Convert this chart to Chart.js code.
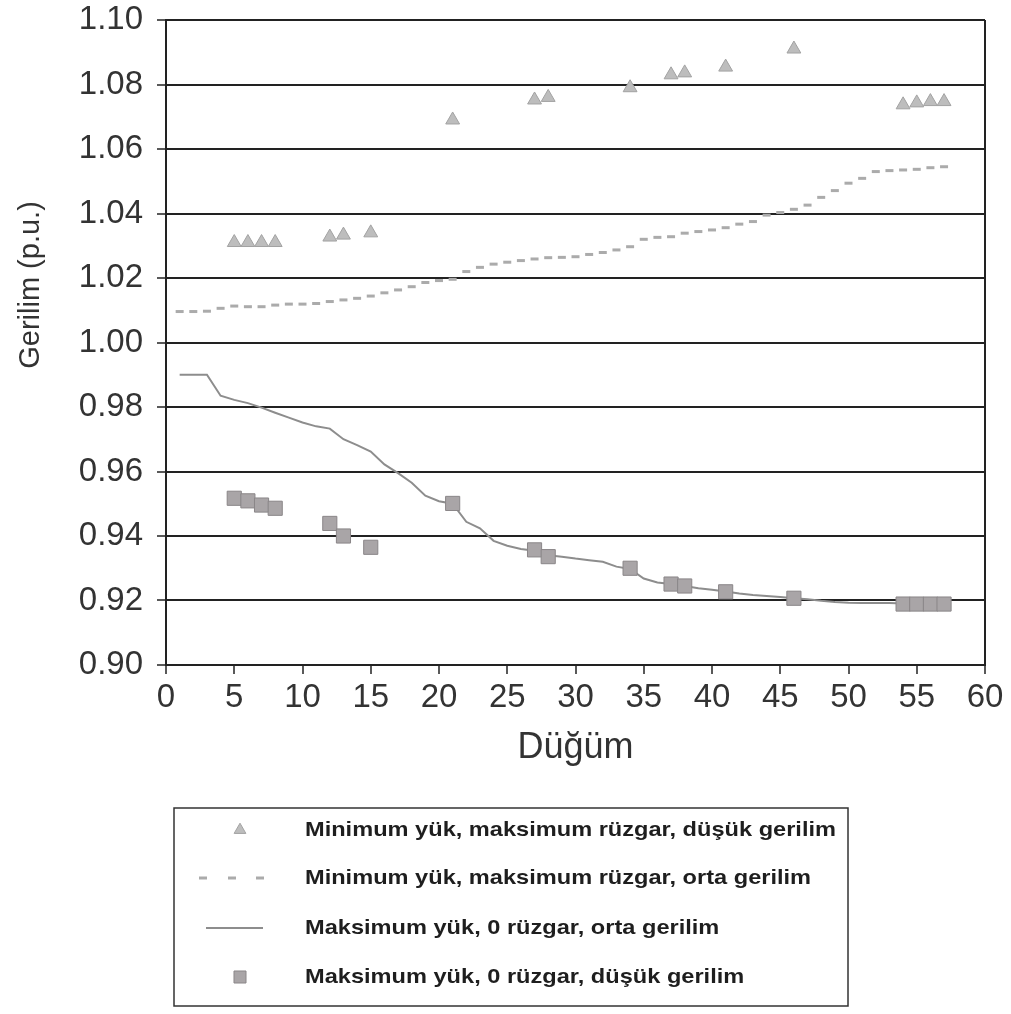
<!DOCTYPE html>
<html>
<head>
<meta charset="utf-8">
<script src="https://cdn.jsdelivr.net/npm/chart.js@4.4.1/dist/chart.umd.min.js"></script>
<style>
  html, body { margin: 0; padding: 0; background: #fff; }
  #wrap { width: 1011px; height: 1014px; }
</style>
</head>
<body>
<div id="wrap"><canvas id="voltChart" width="1011" height="1014"></canvas></div>
<script>
// ==== Data ====
const nodes = [1, 2, 3, 4, 5, 6, 7, 8, 9, 10, 11, 12, 13, 14, 15, 16, 17, 18, 19, 20,
  21, 22, 23, 24, 25, 26, 27, 28, 29, 30, 31, 32, 33, 34, 35, 36, 37, 38, 39, 40,
  41, 42, 43, 44, 45, 46, 47, 48, 49, 50, 51, 52, 53, 54, 55, 56, 57];

// min load, max wind, medium voltage (dashed)
const minLoadMV = [1.0096, 1.0096, 1.0097, 1.0106, 1.0113, 1.0111, 1.0111, 1.0116, 1.0119, 1.0119,
  1.0121, 1.0127, 1.0132, 1.0137, 1.0144, 1.0154, 1.0163, 1.0173, 1.0186, 1.0192,
  1.0196, 1.0220, 1.0233, 1.0243, 1.0249, 1.0254, 1.0259, 1.0263, 1.0264, 1.0266,
  1.0273, 1.0279, 1.0287, 1.0297, 1.0320, 1.0326, 1.0328, 1.0339, 1.0344, 1.0349,
  1.0356, 1.0367, 1.0375, 1.0395, 1.0403, 1.0413, 1.0426, 1.0450, 1.0471, 1.0494,
  1.0509, 1.0530, 1.0533, 1.0535, 1.0537, 1.0542, 1.0545];

// max load, no wind, medium voltage (solid)
const maxLoadMV = [0.9900, 0.9900, 0.9900, 0.9835, 0.9822, 0.9812, 0.9798, 0.9782, 0.9767, 0.9752,
  0.9740, 0.9733, 0.9700, 0.9682, 0.9662, 0.9622, 0.9595, 0.9565, 0.9525, 0.9508,
  0.9500, 0.9444, 0.9424, 0.9385, 0.9370, 0.9360, 0.9354, 0.9340, 0.9336, 0.9330,
  0.9325, 0.9320, 0.9305, 0.9298, 0.9268, 0.9256, 0.9251, 0.9245, 0.9238, 0.9233,
  0.9228, 0.9222, 0.9217, 0.9214, 0.9211, 0.9207, 0.9204, 0.9199, 0.9195, 0.9193,
  0.9192, 0.9192, 0.9192, 0.9191, 0.9191, 0.9191, 0.9191];

// low voltage buses
const lvNodes = [5, 6, 7, 8, 12, 13, 15, 21, 27, 28, 34, 37, 38, 41, 46, 54, 55, 56, 57];
const minLoadLV = [1.0310, 1.0310, 1.0310, 1.0310, 1.0327, 1.0333, 1.0340, 1.0690, 1.0752, 1.0760,
  1.0790, 1.0830, 1.0836, 1.0854, 1.0910, 1.0737, 1.0743, 1.0747, 1.0747];
const maxLoadLV = [0.9517, 0.9509, 0.9496, 0.9486, 0.9439, 0.9400, 0.9365, 0.9501, 0.9357, 0.9336,
  0.9300, 0.9251, 0.9245, 0.9227, 0.9207, 0.9189, 0.9189, 0.9189, 0.9189];

const seriesLabels = [
  "Minimum yük, maksimum rüzgar, düşük gerilim",
  "Minimum yük, maksimum rüzgar, orta gerilim",
  "Maksimum yük, 0 rüzgar, orta gerilim",
  "Maksimum yük, 0 rüzgar, düşük gerilim"
];

const xTicks = [0, 5, 10, 15, 20, 25, 30, 35, 40, 45, 50, 55, 60];
const yTicks = [0.90, 0.92, 0.94, 0.96, 0.98, 1.00, 1.02, 1.04, 1.06, 1.08, 1.10];

const toPoints = (xs, ys) => xs.map((x, i) => ({ x: x, y: ys[i] }));

const INK = "#222";
const FONT = "'Liberation Sans', Arial, sans-serif";

// ==== Y title (sits above the axis middle) ====
const yTitle = {
  id: "yTitle",
  afterDraw(chart) {
    const c = chart.ctx;
    c.save();
    c.translate(31, 285);
    c.rotate(-Math.PI / 2);
    c.font = "29px " + FONT;
    c.fillStyle = "#333";
    c.textAlign = "center";
    c.textBaseline = "middle";
    c.fillText("Gerilim (p.u.)", 0, 0);
    c.restore();
  }
};

// ==== Boxed legend under the plot ====
const legendBox = {
  id: "legendBox",
  afterDraw(chart) {
    const c = chart.ctx;
    const box = { left: 174, top: 808, right: 848, bottom: 1006 };
    const rows = [830, 878, 928, 977];
    const textX = 305;
    const symX = 240;
    const textFont = "bold 21px 'Liberation Sans Narrow', " + FONT;

    c.save();
    c.strokeStyle = "#333";
    c.lineWidth = 1.5;
    c.strokeRect(box.left, box.top, box.right - box.left, box.bottom - box.top);

    c.font = textFont;
    const sx = 531 / c.measureText(seriesLabels[0]).width;

    chart.data.datasets.forEach((ds, i) => {
      const y = rows[i];
      if (ds.legendKind === "point") {
        c.fillStyle = ds.pointBackgroundColor;
        c.strokeStyle = ds.pointBorderColor;
        c.lineWidth = ds.pointBorderWidth;
        Chart.helpers.drawPoint(c, {
          pointStyle: ds.pointStyle,
          radius: ds.pointRadius * 0.85,
          rotation: 0,
          borderWidth: ds.pointBorderWidth
        }, symX, y);
      } else if (ds.legendKind === "dash") {
        c.strokeStyle = ds.pointBorderColor;
        c.lineWidth = ds.pointBorderWidth;
        [203, 232, 260].forEach(px => {
          c.beginPath();
          c.moveTo(px - 4, y);
          c.lineTo(px + 4, y);
          c.stroke();
        });
      } else {
        c.strokeStyle = ds.borderColor;
        c.lineWidth = ds.borderWidth;
        c.beginPath();
        c.moveTo(206, y);
        c.lineTo(263, y);
        c.stroke();
      }

      c.save();
      c.translate(textX, y);
      c.scale(sx, 1);
      c.font = textFont;
      c.fillStyle = "#1e1e1e";
      c.textAlign = "left";
      c.textBaseline = "middle";
      c.fillText(ds.label, 0, 0);
      c.restore();
    });
    c.restore();
  }
};

// ==== Chart Setup ====
const ctx = document.getElementById("voltChart").getContext("2d");

const chart = new Chart(ctx, {
  type: "scatter",
  data: {
    datasets: [
      {
        label: seriesLabels[0],
        data: toPoints(lvNodes, minLoadLV),
        legendKind: "point",
        pointStyle: "triangle",
        pointRadius: 8,
        pointBackgroundColor: "#bdbdbd",
        pointBorderColor: "#a2a2a2",
        pointBorderWidth: 1,
        showLine: false,
        order: 0
      },
      {
        label: seriesLabels[1],
        data: toPoints(nodes, minLoadMV),
        legendKind: "dash",
        pointStyle: "line",
        pointRadius: 4,
        pointBorderColor: "#ababab",
        pointBorderWidth: 3,
        showLine: false,
        order: 1
      },
      {
        label: seriesLabels[2],
        data: toPoints(nodes, maxLoadMV),
        legendKind: "line",
        showLine: true,
        borderColor: "#8d8d8d",
        borderWidth: 2,
        pointRadius: 0,
        tension: 0,
        order: 3
      },
      {
        label: seriesLabels[3],
        data: toPoints(lvNodes, maxLoadLV),
        legendKind: "point",
        pointStyle: "rect",
        pointRadius: 10,
        pointBackgroundColor: "#a9a5a7",
        pointBorderColor: "#8a8688",
        pointBorderWidth: 1,
        showLine: false,
        order: 2
      }
    ]
  },
  options: {
    responsive: false,
    animation: false,
    layout: { padding: { top: 20, right: 26, bottom: 239, left: 0 } },
    plugins: {
      legend: { display: false },
      tooltip: { enabled: false }
    },
    scales: {
      x: {
        type: "linear",
        min: 0,
        max: 60,
        afterBuildTicks: s => { s.ticks = xTicks.map(v => ({ value: v })); },
        afterFit: s => {
          s.height = 110;
          s.paddingLeft = 0;
          s.paddingRight = 0;
        },
        ticks: {
          font: { family: FONT, size: 33 },
          color: "#333",
          padding: 4,
          maxRotation: 0
        },
        grid: {
          drawOnChartArea: true,
          color: c => (c.tick && c.tick.value === 60 ? INK : "rgba(0,0,0,0)"),
          lineWidth: 2,
          tickColor: INK,
          tickWidth: 1.5,
          tickLength: 9
        },
        border: { display: true, color: INK, width: 2 },
        title: {
          display: true,
          text: "Düğüm",
          font: { family: FONT, size: 36 },
          color: "#333",
          padding: { top: 0, bottom: 5 }
        }
      },
      y: {
        type: "linear",
        min: 0.90,
        max: 1.10,
        afterBuildTicks: s => { s.ticks = yTicks.map(v => ({ value: v })); },
        afterFit: s => {
          s.width = 166;
          s.paddingTop = 0;
          s.paddingBottom = 0;
        },
        ticks: {
          font: { family: FONT, size: 33 },
          color: "#333",
          padding: 14,
          callback: v => v.toFixed(2)
        },
        grid: {
          color: INK,
          lineWidth: 2,
          tickColor: INK,
          tickWidth: 1.5,
          tickLength: 9
        },
        border: { display: true, color: INK, width: 2 }
      }
    }
  },
  plugins: [yTitle, legendBox]
});
</script>
</body>
</html>
